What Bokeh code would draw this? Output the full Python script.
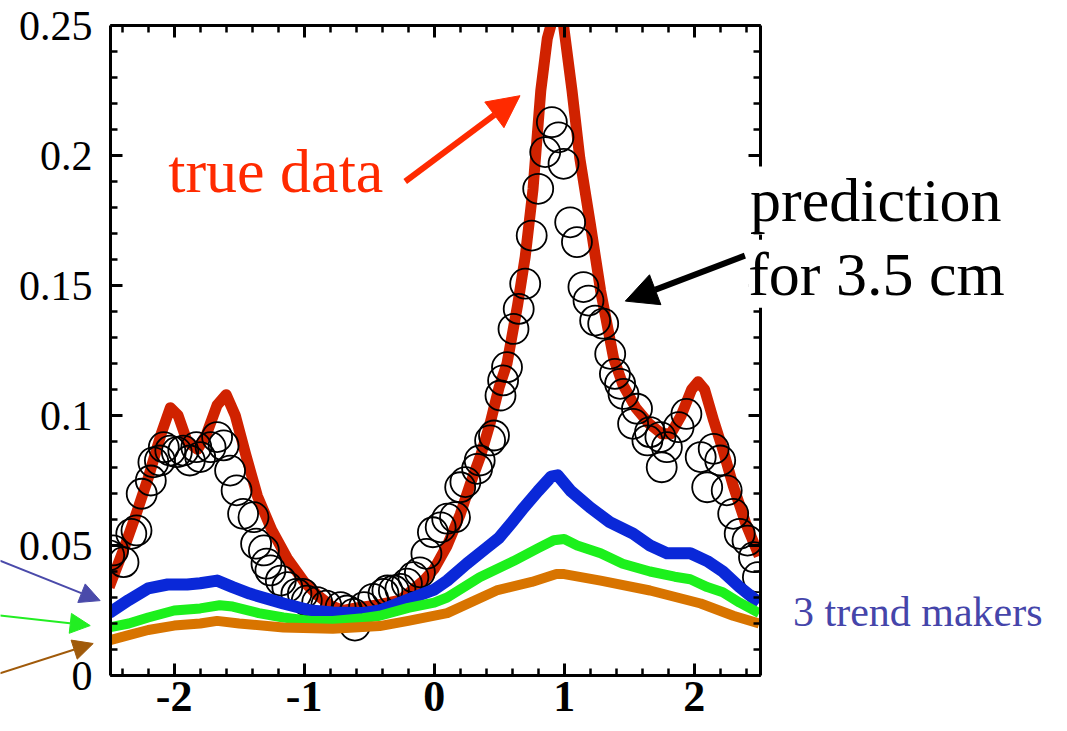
from bokeh.plotting import figure
from bokeh.models import (Range1d, LinearAxis, FixedTicker, Label, Arrow, NormalHead,
                          GridBox, Column)
from bokeh.embed import file_html
from bokeh.resources import INLINE
import numpy as np

# ---------------- data ----------------
x_ticks = [-2, -1, 0, 1, 2]
x_tick_labels = ["-2", "-1", "0", "1", "2"]
y_ticks = [0, 0.05, 0.1, 0.15, 0.2, 0.25]
y_tick_labels = ["0", "0.05", "0.1", "0.15", "0.2", "0.25"]

true_x = [-2.50, -2.40, -2.30, -2.20, -2.10, -2.03, -1.97, -1.90, -1.82, -1.75,
          -1.67, -1.60, -1.53, -1.45, -1.36, -1.25, -1.13, -1.00, -0.90, -0.80,
          -0.70, -0.60, -0.45, -0.26, -0.08, 0.00, 0.10, 0.20, 0.28, 0.36,
          0.43, 0.50, 0.56, 0.64, 0.70, 0.76, 0.82, 0.87, 0.93, 0.99,
          1.06, 1.12, 1.20, 1.28, 1.38, 1.45, 1.55, 1.65, 1.75, 1.82,
          1.90, 1.98, 2.03, 2.08, 2.15, 2.22, 2.30, 2.40, 2.50]
true_y = [0.034, 0.047, 0.061, 0.076, 0.093, 0.103, 0.100, 0.090, 0.087, 0.093,
          0.104, 0.108, 0.100, 0.085, 0.069, 0.056, 0.045, 0.036, 0.031, 0.027,
          0.025, 0.026, 0.027, 0.029, 0.0365, 0.041, 0.050, 0.062, 0.074, 0.085,
          0.097, 0.111, 0.120, 0.142, 0.161, 0.187, 0.225, 0.245, 0.256, 0.252,
          0.225, 0.199, 0.174, 0.148, 0.122, 0.112, 0.103, 0.097, 0.093, 0.093,
          0.100, 0.110, 0.113, 0.110, 0.098, 0.087, 0.073, 0.058, 0.046]

pred_x = [-2.50, -2.47, -2.39, -2.33, -2.29, -2.25, -2.18, -2.16, -2.11, -2.08,
          -2.03, -1.98, -1.93, -1.88, -1.83, -1.80, -1.72, -1.67, -1.62, -1.57,
          -1.52, -1.47, -1.39, -1.37, -1.31, -1.29, -1.26, -1.18, -1.13, -1.06,
          -1.01, -0.98, -0.90, -0.83, -0.72, -0.67, -0.62, -0.61, -0.54, -0.47,
          -0.39, -0.36, -0.31, -0.26, -0.21, -0.16, -0.11, -0.06, -0.01, 0.05,
          0.10, 0.16, 0.20, 0.24, 0.33, 0.35, 0.43, 0.46, 0.51, 0.53,
          0.56, 0.61, 0.65, 0.70, 0.75, 0.80, 0.854, 0.905, 0.956, 0.995,
          1.046, 1.098, 1.148, 1.187, 1.238, 1.30, 1.354, 1.39, 1.43, 1.456,
          1.53, 1.56, 1.64, 1.66, 1.74, 1.75, 1.79, 1.88, 1.94, 2.05,
          2.10, 2.15, 2.20, 2.25, 2.30, 2.35, 2.41, 2.46, 2.49]
pred_y = [0.0462, 0.0481, 0.0436, 0.0545, 0.0558, 0.0699, 0.0750, 0.0820, 0.0827, 0.0878,
          0.0865, 0.0859, 0.0865, 0.0827, 0.0878, 0.0840, 0.0878, 0.0917, 0.0885, 0.0788,
          0.0712, 0.0622, 0.0609, 0.0507, 0.0481, 0.0430, 0.0404, 0.0365, 0.0340, 0.0314,
          0.0314, 0.0288, 0.0282, 0.0269, 0.0263, 0.0250, 0.0237, 0.0192, 0.0263, 0.0295,
          0.0314, 0.0327, 0.0327, 0.0333, 0.0353, 0.0378, 0.0397, 0.0468, 0.0551, 0.0570,
          0.0603, 0.0609, 0.0724, 0.0744, 0.0795, 0.0827, 0.0904, 0.0923, 0.1077, 0.1135,
          0.1186, 0.1333, 0.1410, 0.1507, 0.1692, 0.1872, 0.2013, 0.2128, 0.2070, 0.1968,
          0.1743, 0.1667, 0.1494, 0.1442, 0.1365, 0.1353, 0.1237, 0.1160, 0.1122, 0.1083,
          0.0968, 0.1026, 0.0904, 0.0936, 0.0917, 0.0801, 0.0878, 0.0955, 0.1006, 0.0840,
          0.0724, 0.0872, 0.0827, 0.0712, 0.0622, 0.0545, 0.0519, 0.0455, 0.0378]

blue_x = [-2.50, -2.35, -2.20, -2.05, -1.90, -1.80, -1.67, -1.55, -1.42, -1.16,
          -0.95, -0.78, -0.55, -0.42, -0.16, 0.00, 0.10, 0.25, 0.40, 0.50,
          0.60, 0.69, 0.80, 0.90, 0.95, 1.05, 1.20, 1.35, 1.53, 1.66,
          1.79, 1.97, 2.10, 2.22, 2.35, 2.50]
blue_y = [0.024, 0.029, 0.0335, 0.035, 0.035, 0.0355, 0.0365, 0.034, 0.0315, 0.0277,
          0.025, 0.0242, 0.024, 0.025, 0.030, 0.033, 0.0365, 0.043, 0.049, 0.053,
          0.059, 0.0646, 0.071, 0.0765, 0.077, 0.071, 0.0646, 0.059, 0.0546, 0.050,
          0.047, 0.047, 0.044, 0.040, 0.034, 0.028]

green_x = [-2.50, -2.35, -2.20, -2.00, -1.80, -1.65, -1.55, -1.35, -1.16, -0.95,
           -0.78, -0.55, -0.42, -0.20, 0.00, 0.10, 0.35, 0.61, 0.80, 0.92,
           1.00, 1.10, 1.28, 1.45, 1.66, 1.85, 1.97, 2.10, 2.22, 2.35, 2.50]
green_y = [0.0185, 0.020, 0.0223, 0.025, 0.0258, 0.027, 0.0265, 0.024, 0.0223, 0.021,
           0.021, 0.022, 0.023, 0.026, 0.028, 0.030, 0.0378, 0.044, 0.049, 0.052,
           0.0525, 0.050, 0.047, 0.043, 0.040, 0.038, 0.037, 0.034, 0.032, 0.028, 0.024]

orange_x = [-2.50, -2.35, -2.20, -2.00, -1.80, -1.67, -1.50, -1.16, -0.78, -0.42,
            -0.20, 0.10, 0.48, 0.75, 0.94, 1.00, 1.28, 1.66, 2.05, 2.30, 2.50]
orange_y = [0.0135, 0.0155, 0.0175, 0.0192, 0.020, 0.021, 0.020, 0.0185, 0.018, 0.019,
            0.021, 0.024, 0.0327, 0.036, 0.039, 0.039, 0.0365, 0.0327, 0.0277, 0.023, 0.020]

SERIF = "Liberation Serif"
W, H = 1067, 731
BL, BR, BT, BB = 110, 307, 25, 56          # borders round the plot frame (px)
X0, X1, Y0, Y1 = -2.49, 2.51, 0.0, 0.25    # visible data window

# ---------------- main figure ----------------
p = figure(width=W, height=H, output_backend="svg", toolbar_location=None,
           x_range=Range1d(X0, X1), y_range=Range1d(Y0, Y1),
           min_border_left=BL, min_border_right=BR, min_border_top=BT,
           min_border_bottom=BB)
p.grid.visible = False
p.outline_line_color = None
p.background_fill_color = "white"
p.border_fill_color = "white"

bottom_axis = p.below[0]
left_axis = p.left[0]
top_axis = LinearAxis()
right_axis = LinearAxis()
p.add_layout(top_axis, "above")
p.add_layout(right_axis, "right")

x_minor = [float(v) for v in np.round(np.arange(-2.4, 2.51, 0.2), 2)]
y_minor = [float(v) for v in np.round(np.arange(0, 0.2501, 0.01), 3)]

for ax in [bottom_axis, top_axis]:
    ax.ticker = FixedTicker(ticks=x_ticks, minor_ticks=x_minor)
for ax in [left_axis, right_axis]:
    ax.ticker = FixedTicker(ticks=y_ticks, minor_ticks=y_minor)

for ax in [bottom_axis, left_axis, top_axis, right_axis]:
    ax.axis_line_width = 3
    ax.axis_line_color = "black"
    ax.major_tick_in = 12
    ax.major_tick_out = 0
    ax.minor_tick_in = 7
    ax.minor_tick_out = 0
    ax.major_tick_line_width = 3
    ax.minor_tick_line_width = 2.5
    ax.major_tick_line_color = "black"
    ax.minor_tick_line_color = "black"

for ax in [top_axis, right_axis]:
    ax.major_label_text_font_size = "0px"
    ax.major_label_text_color = None
    ax.major_label_standoff = 0

bottom_axis.major_label_overrides = dict(zip(x_ticks, x_tick_labels))
bottom_axis.major_label_text_font = SERIF
bottom_axis.major_label_text_font_style = "bold"
bottom_axis.major_label_text_font_size = "44px"
bottom_axis.major_label_text_color = "black"
bottom_axis.major_label_standoff = 6

left_axis.major_label_overrides = dict(zip(y_ticks, y_tick_labels))
left_axis.major_label_text_font = SERIF
left_axis.major_label_text_font_size = "42px"
left_axis.major_label_text_color = "black"
left_axis.major_label_standoff = 18

p.line(true_x, true_y, line_color="#d02200", line_width=11, line_join="round")
p.scatter(pred_x, pred_y, marker="circle", size=30, fill_color=None,
          line_color="black", line_width=1.8)
p.line(blue_x, blue_y, line_color="#0a28d8", line_width=12, line_join="round")
p.line(green_x, green_y, line_color="#1cf01c", line_width=10, line_join="round")
p.line(orange_x, orange_y, line_color="#d87400", line_width=10, line_join="round")

# ---------------- transparent overlay (full-canvas frame) for annotations ----------------
ux = (X1 - X0) / (W - BL - BR)
uy = (Y1 - Y0) / (H - BT - BB)
ov = figure(width=W, height=H, output_backend="svg", toolbar_location=None,
            x_range=Range1d(X0 - BL * ux, X1 + BR * ux),
            y_range=Range1d(Y0 - BB * uy, Y1 + BT * uy),
            x_axis_location=None, y_axis_location=None, min_border=0)
ov.grid.visible = False
ov.outline_line_color = None
ov.background_fill_color = None
ov.border_fill_color = None

ov.add_layout(Label(x=-2.046, y=0.194, text="true data", text_font=SERIF,
                    text_font_size="62px", text_color="#ff2a00",
                    text_baseline="alphabetic"))
ov.add_layout(Arrow(x_start=-0.223, y_start=0.190, x_end=0.66, y_end=0.223,
                    line_color="#ff2a00", line_width=6,
                    end=NormalHead(size=32, fill_color="#ff2a00", line_color="#ff2a00")))

ov.add_layout(Label(x=2.43, y=0.1827, text="prediction", text_font=SERIF,
                    text_font_size="62px", text_color="black",
                    text_baseline="alphabetic", background_fill_color="white"))
ov.add_layout(Label(x=2.415, y=0.1545, text="for 3.5 cm", text_font=SERIF,
                    text_font_size="62px", text_color="black",
                    text_baseline="alphabetic", background_fill_color="white"))
ov.add_layout(Arrow(x_start=2.39, y_start=0.1615, x_end=1.47, y_end=0.144,
                    line_color="black", line_width=6,
                    end=NormalHead(size=32, fill_color="black", line_color="black")))

ov.add_layout(Label(x=2.76, y=0.0243, text="3 trend makers", text_font=SERIF,
                    text_font_size="42px", text_color="#4545aa",
                    text_baseline="alphabetic"))

ov.add_layout(Arrow(x_start=-3.34, y_start=0.0442, x_end=-2.57, y_end=0.0288,
                    line_color="#4a4aaa", line_width=2,
                    end=NormalHead(size=20, fill_color="#4a4aaa", line_color="#4a4aaa")))
ov.add_layout(Arrow(x_start=-3.34, y_start=0.0231, x_end=-2.646, y_end=0.0192,
                    line_color="#22ee22", line_width=2,
                    end=NormalHead(size=20, fill_color="#22ee22", line_color="#22ee22")))
ov.add_layout(Arrow(x_start=-3.34, y_start=0.0008, x_end=-2.623, y_end=0.0123,
                    line_color="#a05a0a", line_width=2,
                    end=NormalHead(size=20, fill_color="#a05a0a", line_color="#a05a0a")))

# overlay sits in the same grid cell; wrapped in a Column so its frame is not aligned to p
layout = GridBox(children=[(p, 0, 0), (Column(children=[ov]), 0, 0)])

open("out.html", "w").write(file_html(layout, INLINE))
